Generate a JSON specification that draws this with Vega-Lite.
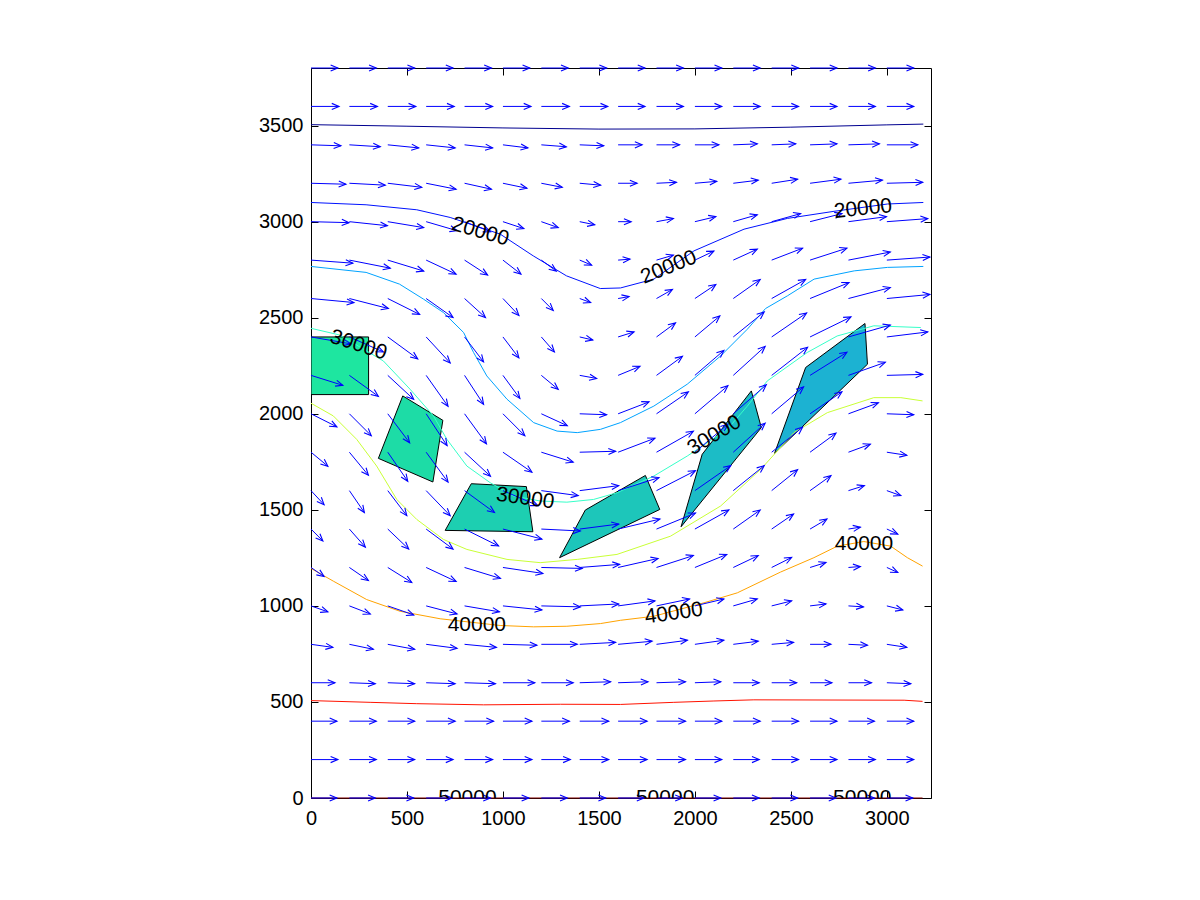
{
"$schema": "https://vega.github.io/schema/vega-lite/v6.json",
"width": 620, "height": 730,
"autosize": {"type": "none"},
"padding": {"left": 311, "top": 68, "right": 269, "bottom": 102},
"background": "white",
"config": {
 "view": {"stroke": "black", "strokeWidth": 1},
 "axis": {"grid": false, "domain": false, "labelFont": "Liberation Sans", "labelFontSize": 20, "labelColor": "black", "tickColor": "black", "tickSize": -7, "labelFlush": false, "labelOverlap": false, "title": null, "format": "d"}
},
"datasets": {
"polys": [
{"p":1,"c":"#1ee6a0","i":0,"x":0,"y":2100},{"p":1,"c":"#1ee6a0","i":1,"x":300,"y":2100},{"p":1,"c":"#1ee6a0","i":2,"x":300,"y":2400},{"p":1,"c":"#1ee6a0","i":3,"x":0,"y":2400},
{"p":2,"c":"#1ddca6","i":0,"x":478,"y":2093},{"p":2,"c":"#1ddca6","i":1,"x":687,"y":1966},{"p":2,"c":"#1ddca6","i":2,"x":635,"y":1645},{"p":2,"c":"#1ddca6","i":3,"x":351,"y":1768},
{"p":3,"c":"#1dcfb1","i":0,"x":835,"y":1636},{"p":3,"c":"#1dcfb1","i":1,"x":1122,"y":1621},{"p":3,"c":"#1dcfb1","i":2,"x":1156,"y":1386},{"p":3,"c":"#1dcfb1","i":3,"x":699,"y":1393},
{"p":4,"c":"#1dc6ba","i":0,"x":1429,"y":1499},{"p":4,"c":"#1dc6ba","i":1,"x":1742,"y":1679},{"p":4,"c":"#1dc6ba","i":2,"x":1817,"y":1502},{"p":4,"c":"#1dc6ba","i":3,"x":1295,"y":1251},
{"p":5,"c":"#1cbcc6","i":0,"x":1928,"y":1412},{"p":5,"c":"#1cbcc6","i":1,"x":2038,"y":1789},{"p":5,"c":"#1cbcc6","i":2,"x":2294,"y":2119},{"p":5,"c":"#1cbcc6","i":3,"x":2346,"y":1928},
{"p":6,"c":"#1cb2d2","i":0,"x":2415,"y":1794},{"p":6,"c":"#1cb2d2","i":1,"x":2577,"y":2241},{"p":6,"c":"#1cb2d2","i":2,"x":2886,"y":2470},{"p":6,"c":"#1cb2d2","i":3,"x":2899,"y":2258}
],
"contours": [
{"lv":"15000","c":"#00008f","i":0,"x":0,"y":3505},{"lv":"15000","c":"#00008f","i":1,"x":500,"y":3497},{"lv":"15000","c":"#00008f","i":2,"x":1000,"y":3488},{"lv":"15000","c":"#00008f","i":3,"x":1500,"y":3482},{"lv":"15000","c":"#00008f","i":4,"x":2000,"y":3483},{"lv":"15000","c":"#00008f","i":5,"x":2500,"y":3492},{"lv":"15000","c":"#00008f","i":6,"x":3000,"y":3504},{"lv":"15000","c":"#00008f","i":7,"x":3190,"y":3508},
{"lv":"20000","c":"#0012ff","i":0,"x":0,"y":3100},{"lv":"20000","c":"#0012ff","i":1,"x":287,"y":3088},{"lv":"20000","c":"#0012ff","i":2,"x":551,"y":3062},{"lv":"20000","c":"#0012ff","i":3,"x":725,"y":3022},{"lv":"20000","c":"#0012ff","i":4,"x":986,"y":2935},{"lv":"20000","c":"#0012ff","i":5,"x":1158,"y":2822},{"lv":"20000","c":"#0012ff","i":6,"x":1331,"y":2718},{"lv":"20000","c":"#0012ff","i":7,"x":1507,"y":2652},{"lv":"20000","c":"#0012ff","i":8,"x":1612,"y":2655},{"lv":"20000","c":"#0012ff","i":9,"x":1786,"y":2701},{"lv":"20000","c":"#0012ff","i":10,"x":1995,"y":2848},{"lv":"20000","c":"#0012ff","i":11,"x":2256,"y":2961},{"lv":"20000","c":"#0012ff","i":12,"x":2482,"y":3017},{"lv":"20000","c":"#0012ff","i":13,"x":2725,"y":3054},{"lv":"20000","c":"#0012ff","i":14,"x":3003,"y":3092},{"lv":"20000","c":"#0012ff","i":15,"x":3190,"y":3100},
{"lv":"25000","c":"#00a3ff","i":0,"x":0,"y":2767},{"lv":"25000","c":"#00a3ff","i":1,"x":287,"y":2736},{"lv":"25000","c":"#00a3ff","i":2,"x":461,"y":2675},{"lv":"25000","c":"#00a3ff","i":3,"x":586,"y":2597},{"lv":"25000","c":"#00a3ff","i":4,"x":690,"y":2527},{"lv":"25000","c":"#00a3ff","i":5,"x":795,"y":2423},{"lv":"25000","c":"#00a3ff","i":6,"x":847,"y":2319},{"lv":"25000","c":"#00a3ff","i":7,"x":916,"y":2197},{"lv":"25000","c":"#00a3ff","i":8,"x":1021,"y":2076},{"lv":"25000","c":"#00a3ff","i":9,"x":1160,"y":1954},{"lv":"25000","c":"#00a3ff","i":10,"x":1282,"y":1910},{"lv":"25000","c":"#00a3ff","i":11,"x":1387,"y":1902},{"lv":"25000","c":"#00a3ff","i":12,"x":1508,"y":1919},{"lv":"25000","c":"#00a3ff","i":13,"x":1612,"y":1954},{"lv":"25000","c":"#00a3ff","i":14,"x":1786,"y":2040},{"lv":"25000","c":"#00a3ff","i":15,"x":1960,"y":2154},{"lv":"25000","c":"#00a3ff","i":16,"x":2134,"y":2301},{"lv":"25000","c":"#00a3ff","i":17,"x":2273,"y":2440},{"lv":"25000","c":"#00a3ff","i":18,"x":2368,"y":2548},{"lv":"25000","c":"#00a3ff","i":19,"x":2482,"y":2614},{"lv":"25000","c":"#00a3ff","i":20,"x":2621,"y":2701},{"lv":"25000","c":"#00a3ff","i":21,"x":2830,"y":2744},{"lv":"25000","c":"#00a3ff","i":22,"x":3003,"y":2762},{"lv":"25000","c":"#00a3ff","i":23,"x":3190,"y":2767},
{"lv":"30000","c":"#36ffc9","i":0,"x":0,"y":2445},{"lv":"30000","c":"#36ffc9","i":1,"x":150,"y":2410},{"lv":"30000","c":"#36ffc9","i":2,"x":377,"y":2275},{"lv":"30000","c":"#36ffc9","i":3,"x":516,"y":2128},{"lv":"30000","c":"#36ffc9","i":4,"x":638,"y":1989},{"lv":"30000","c":"#36ffc9","i":5,"x":708,"y":1867},{"lv":"30000","c":"#36ffc9","i":6,"x":812,"y":1728},{"lv":"30000","c":"#36ffc9","i":7,"x":934,"y":1641},{"lv":"30000","c":"#36ffc9","i":8,"x":1055,"y":1572},{"lv":"30000","c":"#36ffc9","i":9,"x":1194,"y":1546},{"lv":"30000","c":"#36ffc9","i":10,"x":1333,"y":1540},{"lv":"30000","c":"#36ffc9","i":11,"x":1472,"y":1554},{"lv":"30000","c":"#36ffc9","i":12,"x":1594,"y":1589},{"lv":"30000","c":"#36ffc9","i":13,"x":1786,"y":1676},{"lv":"30000","c":"#36ffc9","i":14,"x":1960,"y":1780},{"lv":"30000","c":"#36ffc9","i":15,"x":2169,"y":1919},{"lv":"30000","c":"#36ffc9","i":16,"x":2273,"y":2040},{"lv":"30000","c":"#36ffc9","i":17,"x":2377,"y":2171},{"lv":"30000","c":"#36ffc9","i":18,"x":2585,"y":2319},{"lv":"30000","c":"#36ffc9","i":19,"x":2741,"y":2405},{"lv":"30000","c":"#36ffc9","i":20,"x":2932,"y":2458},{"lv":"30000","c":"#36ffc9","i":21,"x":3177,"y":2449},
{"lv":"35000","c":"#c9ff36","i":0,"x":0,"y":2055},{"lv":"35000","c":"#c9ff36","i":1,"x":116,"y":1989},{"lv":"35000","c":"#c9ff36","i":2,"x":238,"y":1867},{"lv":"35000","c":"#c9ff36","i":3,"x":342,"y":1728},{"lv":"35000","c":"#c9ff36","i":4,"x":447,"y":1554},{"lv":"35000","c":"#c9ff36","i":5,"x":551,"y":1450},{"lv":"35000","c":"#c9ff36","i":6,"x":690,"y":1346},{"lv":"35000","c":"#c9ff36","i":7,"x":812,"y":1294},{"lv":"35000","c":"#c9ff36","i":8,"x":1021,"y":1242},{"lv":"35000","c":"#c9ff36","i":9,"x":1194,"y":1225},{"lv":"35000","c":"#c9ff36","i":10,"x":1387,"y":1242},{"lv":"35000","c":"#c9ff36","i":11,"x":1594,"y":1268},{"lv":"35000","c":"#c9ff36","i":12,"x":1873,"y":1363},{"lv":"35000","c":"#c9ff36","i":13,"x":2134,"y":1520},{"lv":"35000","c":"#c9ff36","i":14,"x":2343,"y":1711},{"lv":"35000","c":"#c9ff36","i":15,"x":2516,"y":1902},{"lv":"35000","c":"#c9ff36","i":16,"x":2690,"y":2006},{"lv":"35000","c":"#c9ff36","i":17,"x":2932,"y":2084},{"lv":"35000","c":"#c9ff36","i":18,"x":3073,"y":2084},{"lv":"35000","c":"#c9ff36","i":19,"x":3186,"y":2067},
{"lv":"40000","c":"#ffa300","i":0,"x":0,"y":1195},{"lv":"40000","c":"#ffa300","i":1,"x":116,"y":1129},{"lv":"40000","c":"#ffa300","i":2,"x":290,"y":1033},{"lv":"40000","c":"#ffa300","i":3,"x":464,"y":972},{"lv":"40000","c":"#ffa300","i":4,"x":673,"y":933},{"lv":"40000","c":"#ffa300","i":5,"x":986,"y":898},{"lv":"40000","c":"#ffa300","i":6,"x":1160,"y":891},{"lv":"40000","c":"#ffa300","i":7,"x":1333,"y":894},{"lv":"40000","c":"#ffa300","i":8,"x":1508,"y":908},{"lv":"40000","c":"#ffa300","i":9,"x":1612,"y":925},{"lv":"40000","c":"#ffa300","i":10,"x":1786,"y":946},{"lv":"40000","c":"#ffa300","i":11,"x":2047,"y":1016},{"lv":"40000","c":"#ffa300","i":12,"x":2221,"y":1068},{"lv":"40000","c":"#ffa300","i":13,"x":2446,"y":1176},{"lv":"40000","c":"#ffa300","i":14,"x":2620,"y":1251},{"lv":"40000","c":"#ffa300","i":15,"x":2742,"y":1311},{"lv":"40000","c":"#ffa300","i":16,"x":2880,"y":1335},{"lv":"40000","c":"#ffa300","i":17,"x":3020,"y":1311},{"lv":"40000","c":"#ffa300","i":18,"x":3107,"y":1251},{"lv":"40000","c":"#ffa300","i":19,"x":3186,"y":1207},
{"lv":"45000","c":"#ff1200","i":0,"x":0,"y":507},{"lv":"45000","c":"#ff1200","i":1,"x":308,"y":498},{"lv":"45000","c":"#ff1200","i":2,"x":551,"y":491},{"lv":"45000","c":"#ff1200","i":3,"x":899,"y":485},{"lv":"45000","c":"#ff1200","i":4,"x":1299,"y":488},{"lv":"45000","c":"#ff1200","i":5,"x":1612,"y":487},{"lv":"45000","c":"#ff1200","i":6,"x":1890,"y":498},{"lv":"45000","c":"#ff1200","i":7,"x":2099,"y":505},{"lv":"45000","c":"#ff1200","i":8,"x":2307,"y":511},{"lv":"45000","c":"#ff1200","i":9,"x":3090,"y":509},{"lv":"45000","c":"#ff1200","i":10,"x":3186,"y":503},
{"lv":"50000","c":"#800000","i":0,"x":0,"y":0},{"lv":"50000","c":"#800000","i":1,"x":3186,"y":0}
],
"labels": [
{"t":"20000","x":882,"y":2947,"a":16},{"t":"20000","x":1864,"y":2762,"a":-22},{"t":"20000","x":2876,"y":3066,"a":-6},
{"t":"30000","x":247,"y":2357,"a":18},{"t":"30000","x":1116,"y":1558,"a":8},{"t":"30000","x":2102,"y":1888,"a":-31},
{"t":"40000","x":864,"y":898,"a":0},{"t":"40000","x":1890,"y":960,"a":-8},{"t":"40000","x":2881,"y":1320,"a":0},
{"t":"50000","x":815,"y":0,"a":0},{"t":"50000","x":1845,"y":0,"a":0},{"t":"50000","x":2872,"y":0,"a":0}
],
"arrows": [
{"x":0,"y":3800,"x2":140,"y2":3800,"a":0},{"x":200,"y":3800,"x2":340,"y2":3800,"a":0},{"x":400,"y":3800,"x2":540,"y2":3800,"a":0},{"x":600,"y":3800,"x2":740,"y2":3800,"a":0},{"x":800,"y":3800,"x2":940,"y2":3800,"a":0},{"x":1000,"y":3800,"x2":1140,"y2":3800,"a":0},{"x":1200,"y":3800,"x2":1340,"y2":3800,"a":0},{"x":1400,"y":3800,"x2":1540,"y2":3800,"a":0},{"x":1600,"y":3800,"x2":1740,"y2":3800,"a":0},{"x":1800,"y":3800,"x2":1940,"y2":3800,"a":0},{"x":2000,"y":3800,"x2":2140,"y2":3800,"a":0},{"x":2200,"y":3800,"x2":2340,"y2":3800,"a":0},{"x":2400,"y":3800,"x2":2540,"y2":3800,"a":0},{"x":2600,"y":3800,"x2":2740,"y2":3800,"a":0},{"x":2800,"y":3800,"x2":2940,"y2":3800,"a":0},{"x":3000,"y":3800,"x2":3140,"y2":3800,"a":0},
{"x":0,"y":3600,"x2":146,"y2":3600,"a":0},{"x":200,"y":3600,"x2":346,"y2":3600,"a":0},{"x":400,"y":3600,"x2":546,"y2":3600,"a":0},{"x":600,"y":3600,"x2":746,"y2":3600,"a":0},{"x":800,"y":3600,"x2":946,"y2":3600,"a":0},{"x":1000,"y":3600,"x2":1146,"y2":3600,"a":0},{"x":1200,"y":3600,"x2":1346,"y2":3600,"a":0},{"x":1400,"y":3600,"x2":1546,"y2":3600,"a":0},{"x":1600,"y":3600,"x2":1740,"y2":3600,"a":0},{"x":1800,"y":3600,"x2":1940,"y2":3600,"a":0},{"x":2000,"y":3600,"x2":2140,"y2":3600,"a":0},{"x":2200,"y":3600,"x2":2340,"y2":3600,"a":0},{"x":2400,"y":3600,"x2":2540,"y2":3600,"a":0},{"x":2600,"y":3600,"x2":2740,"y2":3600,"a":0},{"x":2800,"y":3600,"x2":2940,"y2":3600,"a":0},{"x":3000,"y":3600,"x2":3140,"y2":3600,"a":0},
{"x":0,"y":3400,"x2":156,"y2":3395,"a":2},{"x":200,"y":3400,"x2":361,"y2":3390,"a":4},{"x":400,"y":3400,"x2":561,"y2":3384,"a":6},{"x":600,"y":3400,"x2":751,"y2":3384,"a":6},{"x":800,"y":3400,"x2":946,"y2":3384,"a":6},{"x":1000,"y":3400,"x2":1130,"y2":3384,"a":7},{"x":1200,"y":3400,"x2":1330,"y2":3390,"a":5},{"x":1400,"y":3400,"x2":1525,"y2":3395,"a":2},{"x":1600,"y":3400,"x2":1725,"y2":3400,"a":0},{"x":1800,"y":3400,"x2":1920,"y2":3400,"a":0},{"x":2000,"y":3400,"x2":2125,"y2":3400,"a":0},{"x":2200,"y":3400,"x2":2325,"y2":3405,"a":-2},{"x":2400,"y":3400,"x2":2525,"y2":3405,"a":-2},{"x":2600,"y":3400,"x2":2740,"y2":3405,"a":-2},{"x":2800,"y":3400,"x2":2961,"y2":3405,"a":-2},{"x":3000,"y":3400,"x2":3161,"y2":3400,"a":0},
{"x":0,"y":3200,"x2":182,"y2":3195,"a":2},{"x":200,"y":3200,"x2":387,"y2":3190,"a":3},{"x":400,"y":3200,"x2":577,"y2":3179,"a":7},{"x":600,"y":3200,"x2":756,"y2":3169,"a":11},{"x":800,"y":3200,"x2":940,"y2":3169,"a":12},{"x":1000,"y":3200,"x2":1125,"y2":3174,"a":12},{"x":1200,"y":3200,"x2":1309,"y2":3179,"a":11},{"x":1400,"y":3200,"x2":1509,"y2":3190,"a":5},{"x":1600,"y":3200,"x2":1699,"y2":3200,"a":0},{"x":1800,"y":3200,"x2":1904,"y2":3205,"a":-3},{"x":2000,"y":3200,"x2":2114,"y2":3210,"a":-5},{"x":2200,"y":3200,"x2":2330,"y2":3216,"a":-7},{"x":2400,"y":3200,"x2":2535,"y2":3221,"a":-9},{"x":2600,"y":3200,"x2":2761,"y2":3221,"a":-7},{"x":2800,"y":3200,"x2":2977,"y2":3216,"a":-5},{"x":3000,"y":3200,"x2":3187,"y2":3205,"a":-2},
{"x":0,"y":3000,"x2":198,"y2":2995,"a":2},{"x":200,"y":3000,"x2":398,"y2":2979,"a":6},{"x":400,"y":3000,"x2":587,"y2":2969,"a":9},{"x":600,"y":3000,"x2":761,"y2":2953,"a":16},{"x":800,"y":3000,"x2":935,"y2":2948,"a":21},{"x":1000,"y":3000,"x2":1109,"y2":2964,"a":18},{"x":1200,"y":3000,"x2":1288,"y2":2969,"a":19},{"x":1400,"y":3000,"x2":1478,"y2":2984,"a":11},{"x":1600,"y":3000,"x2":1668,"y2":3000,"a":0},{"x":1800,"y":3000,"x2":1888,"y2":3016,"a":-10},{"x":2000,"y":3000,"x2":2109,"y2":3026,"a":-13},{"x":2200,"y":3000,"x2":2325,"y2":3036,"a":-16},{"x":2400,"y":3000,"x2":2551,"y2":3042,"a":-15},{"x":2600,"y":3000,"x2":2766,"y2":3042,"a":-14},{"x":2800,"y":3000,"x2":2998,"y2":3026,"a":-7},{"x":3000,"y":3000,"x2":3213,"y2":3016,"a":-4},
{"x":0,"y":2800,"x2":218,"y2":2784,"a":4},{"x":200,"y":2800,"x2":413,"y2":2758,"a":11},{"x":400,"y":2800,"x2":587,"y2":2743,"a":17},{"x":600,"y":2800,"x2":756,"y2":2727,"a":25},{"x":800,"y":2800,"x2":920,"y2":2722,"a":33},{"x":1000,"y":2800,"x2":1094,"y2":2727,"a":38},{"x":1200,"y":2800,"x2":1278,"y2":2743,"a":36},{"x":1400,"y":2800,"x2":1462,"y2":2774,"a":23},{"x":1600,"y":2800,"x2":1662,"y2":2805,"a":-5},{"x":1800,"y":2800,"x2":1888,"y2":2826,"a":-16},{"x":2000,"y":2800,"x2":2099,"y2":2847,"a":-25},{"x":2200,"y":2800,"x2":2325,"y2":2857,"a":-25},{"x":2400,"y":2800,"x2":2561,"y2":2862,"a":-21},{"x":2600,"y":2800,"x2":2792,"y2":2862,"a":-18},{"x":2800,"y":2800,"x2":3018,"y2":2842,"a":-11},{"x":3000,"y":2800,"x2":3224,"y2":2816,"a":-4},
{"x":0,"y":2600,"x2":224,"y2":2579,"a":5},{"x":200,"y":2600,"x2":403,"y2":2548,"a":14},{"x":400,"y":2600,"x2":566,"y2":2517,"a":27},{"x":600,"y":2600,"x2":740,"y2":2501,"a":35},{"x":800,"y":2600,"x2":909,"y2":2501,"a":42},{"x":1000,"y":2600,"x2":1083,"y2":2512,"a":47},{"x":1200,"y":2600,"x2":1262,"y2":2538,"a":45},{"x":1400,"y":2600,"x2":1457,"y2":2579,"a":20},{"x":1600,"y":2600,"x2":1657,"y2":2610,"a":-10},{"x":1800,"y":2600,"x2":1883,"y2":2647,"a":-29},{"x":2000,"y":2600,"x2":2109,"y2":2673,"a":-34},{"x":2200,"y":2600,"x2":2340,"y2":2699,"a":-35},{"x":2400,"y":2600,"x2":2577,"y2":2699,"a":-29},{"x":2600,"y":2600,"x2":2803,"y2":2683,"a":-22},{"x":2800,"y":2600,"x2":3018,"y2":2657,"a":-15},{"x":3000,"y":2600,"x2":3224,"y2":2621,"a":-5},
{"x":0,"y":2400,"x2":208,"y2":2364,"a":10},{"x":200,"y":2400,"x2":377,"y2":2322,"a":24},{"x":400,"y":2400,"x2":556,"y2":2286,"a":36},{"x":600,"y":2400,"x2":725,"y2":2265,"a":47},{"x":800,"y":2400,"x2":899,"y2":2270,"a":53},{"x":1000,"y":2400,"x2":1083,"y2":2291,"a":53},{"x":1200,"y":2400,"x2":1268,"y2":2322,"a":49},{"x":1400,"y":2400,"x2":1468,"y2":2384,"a":13},{"x":1600,"y":2400,"x2":1683,"y2":2426,"a":-17},{"x":1800,"y":2400,"x2":1899,"y2":2473,"a":-36},{"x":2000,"y":2400,"x2":2130,"y2":2509,"a":-40},{"x":2200,"y":2400,"x2":2361,"y2":2530,"a":-39},{"x":2400,"y":2400,"x2":2582,"y2":2525,"a":-34},{"x":2600,"y":2400,"x2":2813,"y2":2504,"a":-26},{"x":2800,"y":2400,"x2":3018,"y2":2462,"a":-16},{"x":3000,"y":2400,"x2":3213,"y2":2426,"a":-7},
{"x":0,"y":2200,"x2":166,"y2":2148,"a":17},{"x":200,"y":2200,"x2":351,"y2":2091,"a":36},{"x":400,"y":2200,"x2":535,"y2":2075,"a":43},{"x":600,"y":2200,"x2":714,"y2":2039,"a":55},{"x":800,"y":2200,"x2":899,"y2":2049,"a":57},{"x":1000,"y":2200,"x2":1088,"y2":2080,"a":54},{"x":1200,"y":2200,"x2":1288,"y2":2127,"a":40},{"x":1400,"y":2200,"x2":1488,"y2":2184,"a":10},{"x":1600,"y":2200,"x2":1714,"y2":2247,"a":-22},{"x":1800,"y":2200,"x2":1935,"y2":2299,"a":-36},{"x":2000,"y":2200,"x2":2151,"y2":2330,"a":-41},{"x":2200,"y":2200,"x2":2366,"y2":2351,"a":-42},{"x":2400,"y":2200,"x2":2587,"y2":2346,"a":-38},{"x":2600,"y":2200,"x2":2792,"y2":2320,"a":-32},{"x":2800,"y":2200,"x2":2992,"y2":2268,"a":-19},{"x":3000,"y":2200,"x2":3187,"y2":2205,"a":-2},
{"x":0,"y":2000,"x2":135,"y2":1932,"a":27},{"x":200,"y":2000,"x2":314,"y2":1886,"a":45},{"x":400,"y":2000,"x2":514,"y2":1849,"a":53},{"x":600,"y":2000,"x2":709,"y2":1834,"a":57},{"x":800,"y":2000,"x2":914,"y2":1844,"a":54},{"x":1000,"y":2000,"x2":1114,"y2":1886,"a":45},{"x":1200,"y":2000,"x2":1335,"y2":1938,"a":25},{"x":1400,"y":2000,"x2":1540,"y2":1995,"a":2},{"x":1600,"y":2000,"x2":1761,"y2":2062,"a":-21},{"x":1800,"y":2000,"x2":1966,"y2":2114,"a":-35},{"x":2000,"y":2000,"x2":2172,"y2":2146,"a":-40},{"x":2200,"y":2000,"x2":2372,"y2":2151,"a":-41},{"x":2400,"y":2000,"x2":2566,"y2":2140,"a":-40},{"x":2600,"y":2000,"x2":2766,"y2":2114,"a":-35},{"x":2800,"y":2000,"x2":2956,"y2":2057,"a":-20},{"x":3000,"y":2000,"x2":3140,"y2":1995,"a":2},
{"x":0,"y":1800,"x2":88,"y2":1727,"a":40},{"x":200,"y":1800,"x2":299,"y2":1680,"a":50},{"x":400,"y":1800,"x2":504,"y2":1649,"a":55},{"x":600,"y":1800,"x2":714,"y2":1644,"a":54},{"x":800,"y":1800,"x2":935,"y2":1675,"a":43},{"x":1000,"y":1800,"x2":1151,"y2":1696,"a":35},{"x":1200,"y":1800,"x2":1366,"y2":1748,"a":17},{"x":1400,"y":1800,"x2":1587,"y2":1805,"a":-2},{"x":1600,"y":1800,"x2":1792,"y2":1873,"a":-21},{"x":1800,"y":1800,"x2":1992,"y2":1909,"a":-30},{"x":2000,"y":1800,"x2":2172,"y2":1946,"a":-40},{"x":2200,"y":1800,"x2":2366,"y2":1951,"a":-42},{"x":2400,"y":1800,"x2":2561,"y2":1930,"a":-39},{"x":2600,"y":1800,"x2":2735,"y2":1899,"a":-36},{"x":2800,"y":1800,"x2":2914,"y2":1842,"a":-20},{"x":3000,"y":1800,"x2":3104,"y2":1784,"a":9},
{"x":0,"y":1600,"x2":68,"y2":1527,"a":47},{"x":200,"y":1600,"x2":278,"y2":1486,"a":56},{"x":400,"y":1600,"x2":499,"y2":1470,"a":53},{"x":600,"y":1600,"x2":725,"y2":1470,"a":46},{"x":800,"y":1600,"x2":956,"y2":1486,"a":36},{"x":1000,"y":1600,"x2":1182,"y2":1522,"a":23},{"x":1200,"y":1600,"x2":1392,"y2":1574,"a":8},{"x":1400,"y":1600,"x2":1603,"y2":1626,"a":-7},{"x":1600,"y":1600,"x2":1813,"y2":1668,"a":-18},{"x":1800,"y":1600,"x2":2003,"y2":1704,"a":-27},{"x":2000,"y":1600,"x2":2187,"y2":1730,"a":-35},{"x":2200,"y":1600,"x2":2361,"y2":1730,"a":-39},{"x":2400,"y":1600,"x2":2535,"y2":1709,"a":-39},{"x":2600,"y":1600,"x2":2709,"y2":1678,"a":-36},{"x":2800,"y":1600,"x2":2883,"y2":1626,"a":-17},{"x":3000,"y":1600,"x2":3073,"y2":1574,"a":20},
{"x":0,"y":1400,"x2":62,"y2":1338,"a":45},{"x":200,"y":1400,"x2":283,"y2":1306,"a":48},{"x":400,"y":1400,"x2":509,"y2":1296,"a":44},{"x":600,"y":1400,"x2":740,"y2":1296,"a":37},{"x":800,"y":1400,"x2":977,"y2":1312,"a":27},{"x":1000,"y":1400,"x2":1203,"y2":1348,"a":14},{"x":1200,"y":1400,"x2":1403,"y2":1390,"a":3},{"x":1400,"y":1400,"x2":1603,"y2":1426,"a":-7},{"x":1600,"y":1400,"x2":1818,"y2":1452,"a":-13},{"x":1800,"y":1400,"x2":2003,"y2":1483,"a":-22},{"x":2000,"y":1400,"x2":2177,"y2":1499,"a":-29},{"x":2200,"y":1400,"x2":2340,"y2":1499,"a":-35},{"x":2400,"y":1400,"x2":2514,"y2":1478,"a":-34},{"x":2600,"y":1400,"x2":2688,"y2":1452,"a":-31},{"x":2800,"y":1400,"x2":2862,"y2":1410,"a":-10},{"x":3000,"y":1400,"x2":3057,"y2":1374,"a":24},
{"x":0,"y":1200,"x2":68,"y2":1153,"a":35},{"x":200,"y":1200,"x2":299,"y2":1132,"a":34},{"x":400,"y":1200,"x2":525,"y2":1122,"a":32},{"x":600,"y":1200,"x2":756,"y2":1127,"a":25},{"x":800,"y":1200,"x2":987,"y2":1143,"a":17},{"x":1000,"y":1200,"x2":1208,"y2":1169,"a":9},{"x":1200,"y":1200,"x2":1413,"y2":1195,"a":1},{"x":1400,"y":1200,"x2":1608,"y2":1216,"a":-4},{"x":1600,"y":1200,"x2":1808,"y2":1247,"a":-13},{"x":1800,"y":1200,"x2":1992,"y2":1262,"a":-18},{"x":2000,"y":1200,"x2":2166,"y2":1268,"a":-22},{"x":2200,"y":1200,"x2":2330,"y2":1262,"a":-26},{"x":2400,"y":1200,"x2":2504,"y2":1252,"a":-27},{"x":2600,"y":1200,"x2":2683,"y2":1226,"a":-17},{"x":2800,"y":1200,"x2":2862,"y2":1205,"a":-5},{"x":3000,"y":1200,"x2":3057,"y2":1174,"a":24},
{"x":0,"y":1000,"x2":88,"y2":969,"a":19},{"x":200,"y":1000,"x2":309,"y2":958,"a":21},{"x":400,"y":1000,"x2":535,"y2":953,"a":19},{"x":600,"y":1000,"x2":761,"y2":958,"a":15},{"x":800,"y":1000,"x2":982,"y2":969,"a":10},{"x":1000,"y":1000,"x2":1203,"y2":979,"a":6},{"x":1200,"y":1000,"x2":1403,"y2":995,"a":2},{"x":1400,"y":1000,"x2":1603,"y2":1010,"a":-3},{"x":1600,"y":1000,"x2":1792,"y2":1026,"a":-8},{"x":1800,"y":1000,"x2":1972,"y2":1036,"a":-12},{"x":2000,"y":1000,"x2":2151,"y2":1036,"a":-14},{"x":2200,"y":1000,"x2":2325,"y2":1036,"a":-16},{"x":2400,"y":1000,"x2":2504,"y2":1026,"a":-14},{"x":2600,"y":1000,"x2":2683,"y2":1010,"a":-7},{"x":2800,"y":1000,"x2":2878,"y2":995,"a":4},{"x":3000,"y":1000,"x2":3083,"y2":979,"a":14},
{"x":0,"y":800,"x2":114,"y2":784,"a":8},{"x":200,"y":800,"x2":325,"y2":774,"a":12},{"x":400,"y":800,"x2":540,"y2":774,"a":10},{"x":600,"y":800,"x2":761,"y2":779,"a":7},{"x":800,"y":800,"x2":966,"y2":784,"a":5},{"x":1000,"y":800,"x2":1177,"y2":795,"a":2},{"x":1200,"y":800,"x2":1387,"y2":800,"a":0},{"x":1400,"y":800,"x2":1587,"y2":810,"a":-3},{"x":1600,"y":800,"x2":1777,"y2":816,"a":-5},{"x":1800,"y":800,"x2":1961,"y2":821,"a":-7},{"x":2000,"y":800,"x2":2151,"y2":821,"a":-8},{"x":2200,"y":800,"x2":2330,"y2":816,"a":-7},{"x":2400,"y":800,"x2":2514,"y2":810,"a":-5},{"x":2600,"y":800,"x2":2709,"y2":800,"a":0},{"x":2800,"y":800,"x2":2899,"y2":795,"a":3},{"x":3000,"y":800,"x2":3104,"y2":784,"a":9},
{"x":0,"y":600,"x2":125,"y2":600,"a":0},{"x":200,"y":600,"x2":335,"y2":595,"a":2},{"x":400,"y":600,"x2":540,"y2":595,"a":2},{"x":600,"y":600,"x2":751,"y2":595,"a":2},{"x":800,"y":600,"x2":961,"y2":595,"a":2},{"x":1000,"y":600,"x2":1166,"y2":600,"a":0},{"x":1200,"y":600,"x2":1366,"y2":600,"a":0},{"x":1400,"y":600,"x2":1561,"y2":605,"a":-2},{"x":1600,"y":600,"x2":1756,"y2":605,"a":-2},{"x":1800,"y":600,"x2":1951,"y2":605,"a":-2},{"x":2000,"y":600,"x2":2135,"y2":605,"a":-2},{"x":2200,"y":600,"x2":2335,"y2":600,"a":0},{"x":2400,"y":600,"x2":2530,"y2":600,"a":0},{"x":2600,"y":600,"x2":2714,"y2":600,"a":0},{"x":2800,"y":600,"x2":2920,"y2":600,"a":0},{"x":3000,"y":600,"x2":3125,"y2":595,"a":2},
{"x":0,"y":400,"x2":135,"y2":400,"a":0},{"x":200,"y":400,"x2":340,"y2":400,"a":0},{"x":400,"y":400,"x2":540,"y2":400,"a":0},{"x":600,"y":400,"x2":751,"y2":400,"a":0},{"x":800,"y":400,"x2":951,"y2":400,"a":0},{"x":1000,"y":400,"x2":1151,"y2":400,"a":0},{"x":1200,"y":400,"x2":1346,"y2":400,"a":0},{"x":1400,"y":400,"x2":1551,"y2":400,"a":0},{"x":1600,"y":400,"x2":1751,"y2":400,"a":0},{"x":1800,"y":400,"x2":1951,"y2":400,"a":0},{"x":2000,"y":400,"x2":2140,"y2":400,"a":0},{"x":2200,"y":400,"x2":2340,"y2":400,"a":0},{"x":2400,"y":400,"x2":2540,"y2":400,"a":0},{"x":2600,"y":400,"x2":2740,"y2":400,"a":0},{"x":2800,"y":400,"x2":2935,"y2":400,"a":0},{"x":3000,"y":400,"x2":3140,"y2":400,"a":0},
{"x":0,"y":200,"x2":140,"y2":200,"a":0},{"x":200,"y":200,"x2":340,"y2":200,"a":0},{"x":400,"y":200,"x2":540,"y2":200,"a":0},{"x":600,"y":200,"x2":740,"y2":200,"a":0},{"x":800,"y":200,"x2":946,"y2":200,"a":0},{"x":1000,"y":200,"x2":1151,"y2":200,"a":0},{"x":1200,"y":200,"x2":1351,"y2":200,"a":0},{"x":1400,"y":200,"x2":1551,"y2":200,"a":0},{"x":1600,"y":200,"x2":1751,"y2":200,"a":0},{"x":1800,"y":200,"x2":1951,"y2":200,"a":0},{"x":2000,"y":200,"x2":2140,"y2":200,"a":0},{"x":2200,"y":200,"x2":2335,"y2":200,"a":0},{"x":2400,"y":200,"x2":2540,"y2":200,"a":0},{"x":2600,"y":200,"x2":2740,"y2":200,"a":0},{"x":2800,"y":200,"x2":2940,"y2":200,"a":0},{"x":3000,"y":200,"x2":3140,"y2":200,"a":0},
{"x":0,"y":0,"x2":135,"y2":0,"a":0},{"x":200,"y":0,"x2":335,"y2":0,"a":0},{"x":400,"y":0,"x2":535,"y2":0,"a":0},{"x":600,"y":0,"x2":735,"y2":0,"a":0},{"x":800,"y":0,"x2":935,"y2":0,"a":0},{"x":1000,"y":0,"x2":1135,"y2":0,"a":0},{"x":1200,"y":0,"x2":1335,"y2":0,"a":0},{"x":1400,"y":0,"x2":1535,"y2":0,"a":0},{"x":1600,"y":0,"x2":1735,"y2":0,"a":0},{"x":1800,"y":0,"x2":1935,"y2":0,"a":0},{"x":2000,"y":0,"x2":2135,"y2":0,"a":0},{"x":2200,"y":0,"x2":2335,"y2":0,"a":0},{"x":2400,"y":0,"x2":2535,"y2":0,"a":0},{"x":2600,"y":0,"x2":2735,"y2":0,"a":0},{"x":2800,"y":0,"x2":2935,"y2":0,"a":0},{"x":3000,"y":0,"x2":3135,"y2":0,"a":0}
]
},
"resolve": {"axis": {"x": "independent", "y": "independent"}},
"layer": [
 {
  "data": {"name": "polys"},
  "mark": {"type": "line", "interpolate": "linear-closed", "stroke": "black", "strokeWidth": 1, "clip": true},
  "encoding": {
   "x": {"field": "x", "type": "quantitative", "scale": {"domain": [0, 3230], "nice": false, "zero": false},
         "axis": {"orient": "bottom", "values": [0,500,1000,1500,2000,2500,3000], "labelPadding": 17}},
   "y": {"field": "y", "type": "quantitative", "scale": {"domain": [0, 3800], "nice": false, "zero": false},
         "axis": {"orient": "left", "values": [0,500,1000,1500,2000,2500,3000,3500], "labelPadding": 15}},
   "fill": {"field": "c", "type": "nominal", "scale": null},
   "detail": {"field": "p", "type": "nominal"},
   "order": {"field": "i", "type": "quantitative"}
  }
 },
 {
  "data": {"name": "contours"},
  "mark": {"type": "line", "strokeWidth": 1, "clip": false},
  "encoding": {
   "x": {"field": "x", "type": "quantitative", "scale": {"domain": [0, 3230], "nice": false, "zero": false},
         "axis": {"orient": "top", "values": [0,500,1000,1500,2000,2500,3000], "labels": false}},
   "y": {"field": "y", "type": "quantitative", "scale": {"domain": [0, 3800], "nice": false, "zero": false},
         "axis": {"orient": "right", "values": [0,500,1000,1500,2000,2500,3000,3500], "labels": false}},
   "color": {"field": "c", "type": "nominal", "scale": null},
   "detail": {"field": "lv", "type": "nominal"},
   "order": {"field": "i", "type": "quantitative"}
  }
 },
 {
  "data": {"name": "arrows"},
  "mark": {"type": "rule", "color": "#0000ff", "strokeWidth": 1, "clip": false},
  "encoding": {
   "x": {"field": "x", "type": "quantitative", "axis": null},
   "y": {"field": "y", "type": "quantitative", "axis": null},
   "x2": {"field": "x2"},
   "y2": {"field": "y2"}
  }
 },
 {
  "data": {"name": "arrows"},
  "mark": {"type": "point", "shape": "M-1,-0.42L0,0L-1,0.42", "filled": false, "stroke": "#0000ff", "strokeWidth": 1.1, "opacity": 1, "size": 210, "clip": false},
  "encoding": {
   "x": {"field": "x2", "type": "quantitative", "axis": null},
   "y": {"field": "y2", "type": "quantitative", "axis": null},
   "angle": {"field": "a", "type": "quantitative", "scale": null}
  }
 },
 {
  "data": {"name": "labels"},
  "mark": {"type": "text", "font": "Liberation Sans", "fontSize": 21, "color": "black", "align": "center", "baseline": "middle", "clip": true},
  "encoding": {
   "x": {"field": "x", "type": "quantitative", "axis": null},
   "y": {"field": "y", "type": "quantitative", "axis": null},
   "text": {"field": "t", "type": "nominal"},
   "angle": {"field": "a", "type": "quantitative", "scale": null}
  }
 }
]
}
